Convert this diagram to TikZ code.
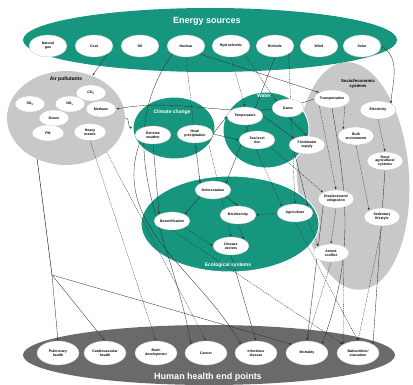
\documentclass[tikz,border=0pt]{standalone}
\usepackage{fontspec}
\setmainfont{Liberation Sans}
\usetikzlibrary{shapes.geometric,arrows.meta}
\pgfdeclarelayer{cont}
\pgfdeclarelayer{edge}
\pgfsetlayers{cont,edge,main}
\definecolor{tealgrp}{HTML}{17967F}
\definecolor{lightgrp}{HTML}{C8C8C8}
\definecolor{darkgrp}{HTML}{6A6A6A}

\begin{document}
\begin{tikzpicture}[x=1pt,y=-1pt,
	box/.style={ellipse,draw=black!25,line width=0.3pt,fill=white,inner sep=0pt,minimum width=36,minimum height=18,align=center,font=\fontsize{3.5}{3.9}\selectfont\bfseries},
	group/.style={ellipse,inner sep=0pt},
	title/.style={text=white,align=center,font=\fontsize{9}{10}\selectfont\bfseries},
	subtitle/.style={title,font=\fontsize{5}{5.5}\selectfont\bfseries},
	link/.style={->,line width=0.35pt,black!80},
	dlink/.style={link,dash pattern=on 1.2pt off 0.9pt},
	>={Latex[length=2.6pt,width=2pt]}]
				\useasboundingbox (0,0) rectangle (413,385);
				
				\begin{pgfonlayer}{cont}
				\node[group,fill=lightgrp,minimum width=112,minimum height=228,rotate=4] (ss) at (353,176) {};
				\node[group,fill=tealgrp,minimum width=374,minimum height=64] (es) at (210,40) {};
				\node[group,fill=lightgrp,minimum width=118,minimum height=94] (ap) at (66,118) {};
				\node[group,fill=tealgrp,draw=white,line width=1pt,minimum width=82,minimum height=62] (cc) at (174,128) {};
				\node[group,fill=tealgrp,draw=white,line width=1pt,minimum width=86,minimum height=76] (wt) at (266,130) {};
				\node[group,fill=tealgrp,draw=white,line width=1pt,minimum width=178,minimum height=96] (eco) at (230,224) {};
				\node[group,fill=darkgrp,minimum width=372,minimum height=60] (hh) at (209,355) {};
				\end{pgfonlayer}
				
				\node[title] at (207,21) {Energy sources};
				\node[subtitle,text=black] at (66,79) {Air pollutants};
				\node[subtitle] at (172,112) {Climate change};
				\node[subtitle] at (264,96) {Water};
				\node[subtitle,text=black,font=\fontsize{4.3}{4.8}\selectfont\bfseries] at (358,84) {Social/economic\\systems};
				\node[subtitle] at (228,265) {Ecological systems};
				\node[title] at (208,377) {Human health end points};
				
				% energy sources
				\node[box,minimum width=38,minimum height=22] (ng) at (48,46) {Natural\\gas};
				\node[box,minimum width=38,minimum height=22] (coal) at (94,46) {Coal};
				\node[box,minimum width=38,minimum height=22] (oil) at (140,46) {Oil};
				\node[box,minimum width=38,minimum height=22] (nuc) at (186,46) {Nuclear};
				\node[box,minimum width=38,minimum height=22] (hyd) at (231,46) {Hydroelectric};
				\node[box,minimum width=38,minimum height=22] (bio) at (275,46) {Biofuels};
				\node[box,minimum width=38,minimum height=22] (wind) at (319,46) {Wind};
				\node[box,minimum width=38,minimum height=22] (sol) at (362,46) {Solar};
				
				% air pollutants
				\node[box,minimum width=30,minimum height=16] (co2) at (91,93) {CO\textsubscript{2}};
				\node[box,minimum width=30,minimum height=16] (so2) at (30,104) {SO\textsubscript{2}};
				\node[box,minimum width=30,minimum height=16] (nox) at (70,104) {NO\textsubscript{x}};
				\node[box,minimum width=30,minimum height=16] (meth) at (101,109) {Methane};
				\node[box,minimum width=30,minimum height=16] (ozo) at (54,118) {Ozone};
				\node[box,minimum width=32,minimum height=16] (pm) at (48,133) {PM};
				\node[box,minimum width=32,minimum height=17] (hm) at (90,132) {Heavy\\metals};
				
				% climate and water
				\node[box] (ext) at (153,135) {Extreme\\weather};
				\node[box] (heat) at (195,134) {Heat/\\precipitation};
				\node[box] (temp) at (245,116) {Temperature};
				\node[box,minimum width=32] (dams) at (288,108) {Dams};
				\node[box] (sea) at (257,140) {Sea level\\rise};
				\node[box] (fresh) at (307,145) {Freshwater\\supply};
				
				% social and economic
				\node[box] (trans) at (332,99) {Transportation};
				\node[box] (elec) at (378,110) {Electricity};
				\node[box] (built) at (356,136) {Built\\environment};
				\node[box] (rural) at (385,161) {Rural\\agricultural\\systems};
				\node[box] (disp) at (336,199) {Displacement/\\emigration};
				\node[box] (sed) at (382,217) {Sedentary\\lifestyle};
				\node[box] (war) at (331,253) {Armed\\conflict};
				
				% ecological
				\node[box] (defo) at (213,190) {Deforestation};
				\node[box] (dese) at (172,221) {Desertification};
				\node[box] (bdiv) at (238,215) {Biodiversity};
				\node[box] (agri) at (295,213) {Agriculture};
				\node[box] (vect) at (231,246) {Disease\\vectors};
				
				% health end points
				\node[box,minimum width=42,minimum height=24] (pulm) at (58,353) {Pulmonary\\health};
				\node[box,minimum width=42,minimum height=24] (card) at (105,353) {Cardiovascular\\health};
				\node[box,minimum width=42,minimum height=24] (brain) at (156,353) {Brain\\development};
				\node[box,minimum width=42,minimum height=24] (canc) at (206,353) {Cancer};
				\node[box,minimum width=42,minimum height=24] (inf) at (256,353) {Infectious\\disease};
				\node[box,minimum width=42,minimum height=24] (mort) at (307,353) {Mortality};
				\node[box,minimum width=42,minimum height=24] (maln) at (358,353) {Malnutrition/\\starvation};
				
				\coordinate (apj) at (52,275);
				
				\begin{pgfonlayer}{edge}
				\draw[link] (coal.south east) -- (ap.58);
				\draw[link] (sol.east) to[out=-30,in=85] (elec.north east);
				\draw[link] (nuc.south east) -- (trans.north west);
				\draw[link] (nuc.south west) to[out=235,in=100] (canc.north west);
				\draw[link] (bio.south) -- (defo.north east);
				\draw[dlink] (bio.south east) -- (agri.north);
				\draw[dlink] (hyd.south east) -- (dams.north west);
				\draw[dlink] (nuc.south) -- (defo.north west);
				\draw[dlink] (hyd.south) -- (temp.north);
				
				\draw (ap.235) -- (apj);
				\draw[link] (apj) -- (pulm.north);
				\draw[link] (apj) -- (card.north);
				\draw[link] (apj) -- (mort.north west);
				\draw[link] (ap.east) to[out=10,in=170] (cc.west);
				\draw[dlink] (hm.south) -- (brain.north);
				\draw[dlink] (ap.-40) -- (canc.north);
				\draw[link] (trans.west) to[out=200,in=10] (meth.east);
				
				\draw[link] (heat.east) -- (temp.west);
				\draw[link] (heat.east) -- (sea.west);
				\draw[link] (temp.east) -- (fresh.north west);
				\draw[link] (dams.south) -- (fresh.north);
				\draw[link] (ext.south) -- (dese.north west);
				\draw[dlink] (heat.south) -- (defo.north west);
				\draw[dlink] (heat.south east) -- (vect.north);
				\draw[link] (ext.south west) to[out=250,in=120] (inf.north west);
				\draw[dlink] (sea.south east) -- (disp.north west);
				\draw[link] (fresh.south west) -- (agri.north east);
				\draw[dlink] (temp.south) -- (agri.north west);
				
				\draw[dlink] (trans.south east) -- (built.north west);
				\draw[link] (trans.south) to[out=-80,in=70] (mort.north east);
				\draw[dlink] (trans.south west) -- (disp.north);
				\draw[dlink] (elec.south) -- (rural.north);
				\draw[dlink] (built.south) -- (sed.north west);
				\draw[link] (rural.south) -- (maln.north east);
				\draw[dlink] (sed.south) -- (maln.north);
				\draw[dlink] (disp.south) -- (war.north);
				\draw[dlink] (agri.south east) -- (war.north west);
				\draw[link] (disp.south west) -- (mort.north);
				\draw[dlink] (war.south) -- (mort.north);
				\draw[dlink] (war.south east) -- (maln.north west);
				\draw[dlink] (agri.south) -- (maln.north);
				
				\draw[link] (defo.south east) -- (bdiv.north);
				\draw[link] (defo.south west) -- (dese.north east);
				\draw[dlink] (agri.west) -- (bdiv.east);
				\draw[dlink] (bdiv.south) -- (vect.north east);
				\draw[dlink] (dese.south east) -- (vect.west);
				\draw[link] (vect.south) -- (inf.north);
				\draw[dlink] (dese.south) -- (maln.north west);
				\end{pgfonlayer}
			\end{tikzpicture}
\end{document}
